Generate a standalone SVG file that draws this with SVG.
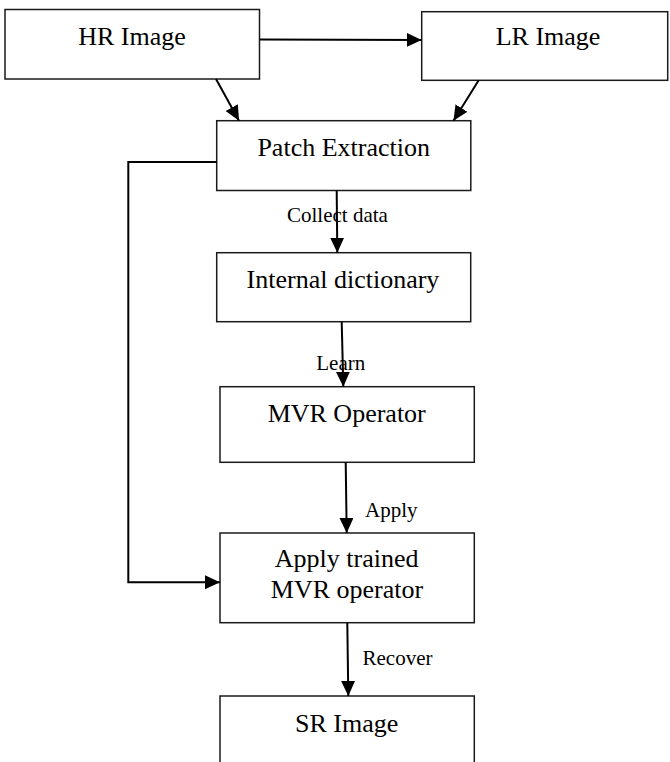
<svg xmlns="http://www.w3.org/2000/svg" width="670" height="762" viewBox="0 0 670 762">
  <style>
    .box { fill: #ffffff; stroke: #1a1a1a; stroke-width: 1.5; }
    .lbl { font-family: "Liberation Serif", "Times New Roman", serif; font-size: 26px; fill: #000; text-anchor: middle; }
    .edge-lbl { font-family: "Liberation Serif", "Times New Roman", serif; font-size: 21px; fill: #000; }
    .conn { fill: none; stroke: #000; stroke-width: 2; marker-end: url(#arrow); }
  </style>
  <defs>
    <marker id="arrow" markerUnits="userSpaceOnUse" markerWidth="16" markerHeight="15" refX="15" refY="7" orient="auto">
      <path d="M0,0 L15,7 L0,14 Z" fill="#000"/>
    </marker>
  </defs>
  <rect width="670" height="762" fill="#ffffff"/>

  <!-- nodes -->
  <g id="hr-image">
    <rect class="box" x="5" y="9.5" width="254.5" height="69.5"/>
    <text class="lbl" x="132" y="45">HR Image</text>
  </g>
  <g id="lr-image">
    <rect class="box" x="421.7" y="11.7" width="246" height="68.6"/>
    <text class="lbl" x="548" y="45">LR Image</text>
  </g>
  <g id="patch-extraction">
    <rect class="box" x="216.7" y="120.7" width="254.1" height="69.8"/>
    <text class="lbl" x="343.7" y="156">Patch Extraction</text>
  </g>
  <g id="internal-dictionary">
    <rect class="box" x="216.7" y="252.7" width="254" height="69"/>
    <text class="lbl" x="343" y="287.7">Internal dictionary</text>
  </g>
  <g id="mvr-operator">
    <rect class="box" x="220" y="386.7" width="254.3" height="75.6"/>
    <text class="lbl" x="346.7" y="421.7">MVR Operator</text>
  </g>
  <g id="apply-trained">
    <rect class="box" x="220" y="533" width="254.3" height="89.7"/>
    <text class="lbl" x="346.7" y="566.7">Apply trained</text>
    <text class="lbl" x="347" y="598.3">MVR operator</text>
  </g>
  <g id="sr-image">
    <rect class="box" x="220" y="696" width="254.3" height="80"/>
    <text class="lbl" x="346.7" y="731.7">SR Image</text>
  </g>

  <!-- connectors -->
  <g id="connectors">
    <line class="conn" x1="259.5" y1="39.5" x2="421.7" y2="40"/>
    <line class="conn" x1="216" y1="79" x2="239" y2="120.7"/>
    <line class="conn" x1="478.7" y1="80.3" x2="453.5" y2="120.7"/>
    <line class="conn" x1="336.7" y1="190.5" x2="337.3" y2="252.7"/>
    <line class="conn" x1="341.7" y1="321.7" x2="343.3" y2="386.7"/>
    <line class="conn" x1="345.7" y1="462.3" x2="346.7" y2="533"/>
    <line class="conn" x1="347.3" y1="622.7" x2="348.3" y2="696"/>
    <polyline class="conn" points="216.7,162 128.3,162 128.3,582.3 220,582.3"/>
  </g>

  <!-- connector labels -->
  <g id="connector-labels">
    <text class="edge-lbl" x="287" y="221.7">Collect data</text>
    <text class="edge-lbl" x="316.3" y="370">Learn</text>
    <text class="edge-lbl" x="365" y="517">Apply</text>
    <text class="edge-lbl" x="362.5" y="664.5">Recover</text>
  </g>
</svg>
